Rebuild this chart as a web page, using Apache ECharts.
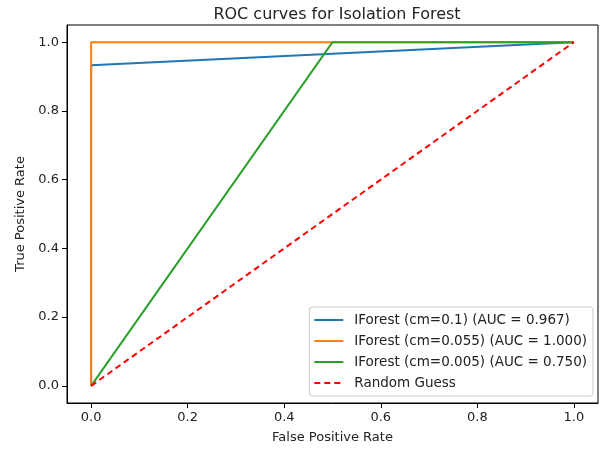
<!DOCTYPE html>
<html>
<head>
<meta charset="utf-8">
<script src="https://cdn.jsdelivr.net/npm/echarts@6/dist/echarts.min.js"></script>
<style>
  html, body { margin: 0; padding: 0; background: #fff; }
  #chart { width: 607px; height: 449px; }
</style>
</head>
<body>
<div id="chart"></div>
<script>
// ROC points
const blueFpr = [0, 0, 1]
const blueTpr = [0, 0.933, 1]
const orangeFpr = [0, 0, 1]
const orangeTpr = [0, 1, 1]
const greenFpr = [0, 0.5, 1]
const greenTpr = [0, 1, 1]
const guessFpr = [0, 1]
const guessTpr = [0, 1]
const seriesNames = [
  'IForest (cm=0.1) (AUC = 0.967)',
  'IForest (cm=0.055) (AUC = 1.000)',
  'IForest (cm=0.005) (AUC = 0.750)',
  'Random Guess'
]
const tickValues = [0, 0.2, 0.4, 0.6, 0.8, 1.0]

const font = 'DejaVu Sans'
const zip = (xs, ys) => xs.map((x, i) => [x, ys[i]])

let axisOpts = (name, extra) => Object.assign({
  type: 'value',
  name: name,
  nameLocation: 'middle',
  min: -0.05,
  max: 1.05,
  axisLine: { show: true, onZero: false, lineStyle: { color: '#000', width: 1 } },
  axisTick: { show: true, length: 5, customValues: tickValues, lineStyle: { color: '#000' } },
  axisLabel: {
    customValues: tickValues,
    formatter: v => v.toFixed(1),
    color: '#222', fontFamily: font, fontSize: 13
  },
  splitLine: { show: false },
  nameTextStyle: { color: '#222', fontFamily: font, fontSize: 13 }
}, extra)

let lineSeries = (name, data, color, dashed) => ({
  name: name,
  type: 'line',
  data: data,
  symbol: 'none',
  animation: false,
  lineStyle: { color: color, width: 2, type: dashed ? [6, 4] : 'solid' },
  itemStyle: { color: color }
})

let chart = echarts.init(document.getElementById('chart'))
chart.setOption({
  backgroundColor: '#fff',
  title: {
    text: 'ROC curves for Isolation Forest',
    left: 332, top: 2, textAlign: 'center',
    textStyle: { fontFamily: font, fontSize: 16, fontWeight: 'normal', color: '#222' }
  },
  grid: { left: 67, right: 9, top: 25, bottom: 46, show: true, borderColor: '#000', borderWidth: 1 },
  xAxis: axisOpts('False Positive Rate', { nameGap: 28 }),
  yAxis: axisOpts('True Positive Rate', { nameGap: 40 }),
  legend: {
    data: seriesNames,
    orient: 'vertical',
    right: 14, bottom: 53,
    itemWidth: 29, itemHeight: 10, itemGap: 7,
    padding: [6, 6, 6, 4],
    borderColor: '#ccc', borderWidth: 1, borderRadius: 3,
    backgroundColor: 'rgba(255,255,255,0.8)',
    itemStyle: { opacity: 0 },
    textStyle: { fontFamily: font, fontSize: 13.5, color: '#222', padding: [0, 0, 0, 6] }
  },
  series: [
    lineSeries(seriesNames[0], zip(blueFpr, blueTpr), '#1f77b4'),
    lineSeries(seriesNames[1], zip(orangeFpr, orangeTpr), '#ff7f0e'),
    lineSeries(seriesNames[2], zip(greenFpr, greenTpr), '#2ca02c'),
    lineSeries(seriesNames[3], zip(guessFpr, guessTpr), '#ff0000', true)
  ]
})
</script>
</body>
</html>
